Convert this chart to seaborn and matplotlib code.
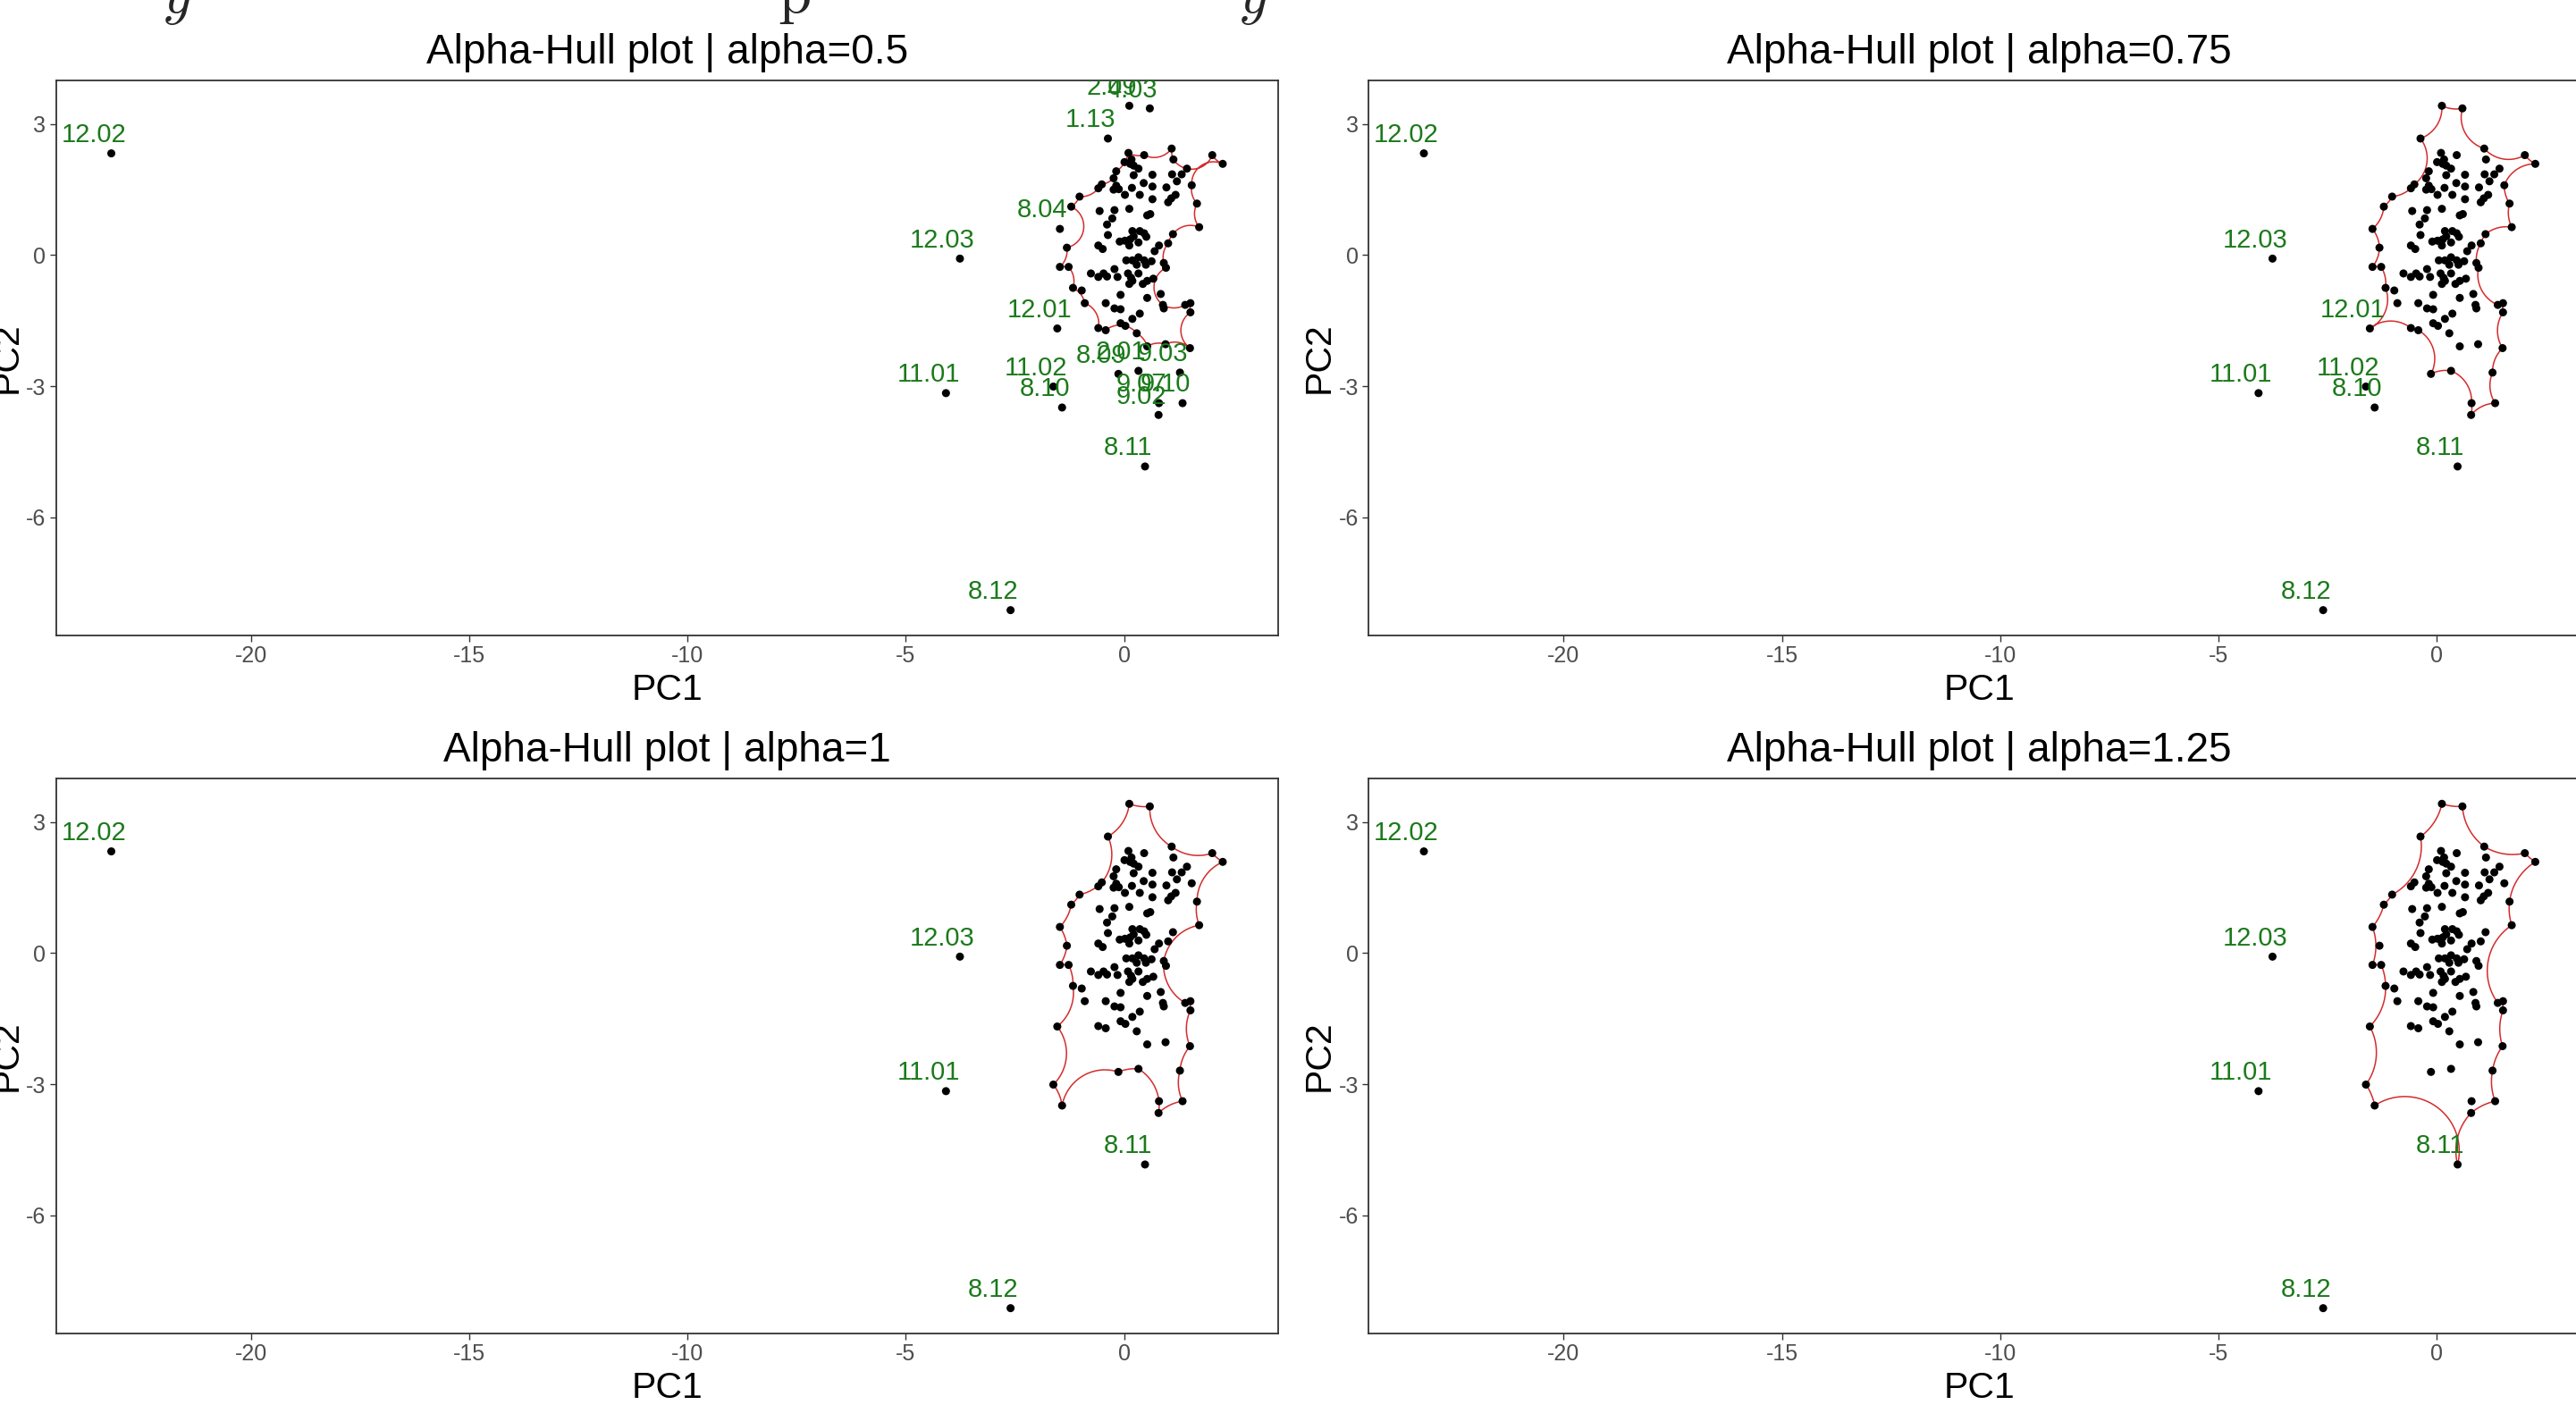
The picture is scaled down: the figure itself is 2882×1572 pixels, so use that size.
import numpy as np
import pandas as pd
import matplotlib
matplotlib.use("Agg")
import matplotlib.pyplot as plt
import seaborn as sns

# PCA scores (1-based numbering used by the hull lists)
pc1 = [0.12, 0.59, -0.37, 1.09, 2.02, 2.26, 0.10, 0.17, 0.01, 0.14,
       0.22, 0.46, 1.13, -0.18, 0.33, 0.22, 0.65, 1.10, 1.32, 1.44,
       -0.24, -0.51, -0.59, -0.18, -0.12, -0.24, 0.18, 0.45, 0.65, 0.97,
       1.21, 1.55, -1.02, -1.21, 0.02, 0.36, 0.65, 1.18, 1.08, 1.01,
       1.67, -0.56, -0.22, 0.12, -0.27, 0.53, 0.60, -0.39, -1.47, 1.72,
       -0.37, 0.19, 0.36, 0.46, 0.51, 1.12, -0.10, 0.02, 0.14, 0.22,
       0.33, 0.12, -0.59, -0.49, -1.31, 0.80, 1.01, 0.70, 0.19, 0.33,
       0.05, 0.46, 0.63, 0.91, 0.96, -1.47, -1.27, -0.22, 0.29, 0.50,
       -0.76, -0.59, -0.47, -0.39, -0.15, 0.09, 0.16, 0.33, 0.67, 0.53,
       -1.17, -0.97, 0.12, 0.19, 0.43, -0.08, 0.53, 0.84, 0.89, 0.91,
       1.40, 1.52, 1.52, -0.90, -0.42, -0.22, -0.08, 0.36, 0.19, -0.08,
       0.03, -0.59, -0.42, 0.29, -1.53, 0.53, 0.95, 1.51, 0.33, -0.13,
       1.28, -1.62, -1.42, 0.80, 1.34, 0.79, 0.48, -2.60, -23.20, -3.76,
       -4.08]
pc2 = [3.42, 3.36, 2.67, 2.44, 2.29, 2.09, 2.34, 2.19, 2.13, 2.09,
       2.05, 2.29, 2.19, 1.92, 1.98, 1.83, 1.84, 1.85, 1.85, 1.98,
       1.76, 1.62, 1.53, 1.59, 1.51, 1.50, 1.54, 1.65, 1.57, 1.55,
       1.69, 1.60, 1.34, 1.11, 1.38, 1.38, 1.28, 1.38, 1.30, 1.21,
       1.18, 1.01, 1.03, 1.06, 0.84, 0.91, 0.94, 0.70, 0.60, 0.64,
       0.46, 0.55, 0.55, 0.50, 0.42, 0.48, 0.31, 0.33, 0.36, 0.43,
       0.29, 0.22, 0.22, 0.14, 0.17, 0.22, 0.27, 0.09, -0.12, -0.05,
       -0.12, -0.12, -0.14, -0.18, -0.29, -0.27, -0.27, -0.32, -0.22, -0.22,
       -0.42, -0.50, -0.42, -0.49, -0.50, -0.42, -0.52, -0.42, -0.54, -0.59,
       -0.75, -0.81, -0.66, -0.59, -0.66, -0.91, -0.98, -0.89, -1.14, -1.22,
       -1.14, -1.10, -1.31, -1.10, -1.10, -1.22, -1.24, -1.34, -1.46, -1.56,
       -1.62, -1.67, -1.72, -1.79, -1.68, -2.09, -2.04, -2.13, -2.65, -2.72,
       -2.69, -3.01, -3.49, -3.39, -3.39, -3.66, -4.84, -8.13, 2.33, -0.08,
       -3.16]

point_ids = {1: "2.09", 2: "4.03", 3: "1.13", 49: "8.04", 115: "12.01",
             119: "2.01", 120: "8.09", 121: "9.03", 122: "11.02", 123: "8.10",
             124: "9.07", 125: "9.10", 126: "9.02", 127: "8.11", 128: "8.12",
             129: "12.02", 130: "12.03", 131: "11.01"}

alphas = [0.5, 0.75, 1, 1.25]

hull_050 = [7, 12, 4, 13, 20, 5, 6, 32, 41, 50, 56, 67, 74, 75, 99, 101, 102,
            103, 118, 117, 116, 114, 111, 113, 112, 104, 91, 77, 76, 65, 34,
            33, 23, 22, 21, 14, 9]
hull_075 = [1, 2, 4, 5, 6, 32, 41, 50, 56, 67, 74, 75, 101, 102, 103, 118,
            121, 125, 126, 124, 119, 120, 113, 112, 115, 91, 77, 76, 65, 49,
            34, 33, 23, 22, 3]
hull_100 = [1, 2, 4, 5, 6, 41, 50, 74, 101, 102, 103, 118, 121, 125, 126,
            124, 119, 120, 123, 122, 115, 91, 77, 76, 65, 49, 34, 33, 22, 3]
hull_125 = [1, 2, 4, 5, 6, 41, 50, 101, 102, 103, 118, 121, 125, 126, 127,
            123, 122, 115, 91, 77, 76, 49, 34, 33, 3]

labelled_050 = [129, 130, 131, 127, 128, 1, 2, 3, 49, 115, 122, 123, 120,
                119, 121, 124, 125, 126]
labelled_075 = [129, 130, 115, 131, 122, 123, 127, 128]
labelled_100 = [129, 130, 131, 127, 128]
labelled_125 = [129, 130, 131, 127, 128]

x_ticks = [-20, -15, -10, -5, 0]
y_ticks = [-6, -3, 0, 3]

W, H = 2882, 1572
RED = "#d42c2c"
GREEN = "#1b7a1b"


def alpha_arcs(xs, ys, order, alpha, n=40):
    idx = np.asarray(order) - 1
    px = np.asarray(xs)[idx]
    py = np.asarray(ys)[idx]
    area = 0.5 * np.sum(px * np.roll(py, -1) - np.roll(px, -1) * py)
    sign = 1.0 if area > 0 else -1.0

    def wrap(a):
        return (a + np.pi) % (2 * np.pi) - np.pi

    out_x, out_y = [], []
    for i in range(len(px)):
        x0, y0 = px[i], py[i]
        x1, y1 = px[(i + 1) % len(px)], py[(i + 1) % len(px)]
        dx, dy = x1 - x0, y1 - y0
        d = np.hypot(dx, dy)
        nx, ny = sign * -dy / d, sign * dx / d  # points into the hull
        r = max(alpha, d / 2)
        h = np.sqrt(max(r * r - d * d / 4, 0.0))
        cx = (x0 + x1) / 2 - nx * h
        cy = (y0 + y1) / 2 - ny * h
        a0 = np.arctan2(y0 - cy, x0 - cx)
        a1 = np.arctan2(y1 - cy, x1 - cx)
        am = np.arctan2(ny, nx)
        delta = wrap(a1 - a0)
        dm = wrap(am - a0)
        if not (np.sign(dm) == np.sign(delta) and abs(dm) <= abs(delta)):
            delta -= np.sign(delta) * 2 * np.pi
        t = a0 + delta * np.linspace(0, 1, n)
        out_x.extend(cx + r * np.cos(t))
        out_y.extend(cy + r * np.sin(t))
    return pd.DataFrame({"x": out_x, "y": out_y})


sns.set_style("white")
plt.rcParams["font.family"] = ["Liberation Sans", "DejaVu Sans"]
plt.rcParams["axes.unicode_minus"] = False

fig = plt.figure(figsize=(W / 100, H / 100), dpi=100)

panel_left = [62.5, 1531, 62.5, 1531]
panel_top = [90, 90, 871, 871]
panel_w, panel_h = 1367.5, 621

hulls = [hull_050, hull_075, hull_100, hull_125]
labelled = [labelled_050, labelled_075, labelled_100, labelled_125]

for k, a in enumerate(alphas):
    ax = fig.add_axes([panel_left[k] / W, 1 - (panel_top[k] + panel_h) / H,
                       panel_w / W, panel_h / H])

    path = alpha_arcs(pc1, pc2, hulls[k], a)
    sns.lineplot(data=path, x="x", y="y", sort=False, estimator=None,
                 color=RED, linewidth=1.1, ax=ax)
    sns.scatterplot(x=pc1, y=pc2, color="black", s=42, edgecolor="none",
                    legend=False, ax=ax, zorder=3)

    for i in labelled[k]:
        ax.text(pc1[i - 1] - 0.4, pc2[i - 1] + 0.26, point_ids[i],
                color=GREEN, fontsize=21, ha="center", va="baseline",
                clip_on=True, zorder=4)

    ax.set_xlim(-24.47, 3.53)
    ax.set_ylim(-8.71, 4.0)
    ax.set_xticks(x_ticks)
    ax.set_xticklabels([str(v) for v in x_ticks])
    ax.set_yticks(y_ticks)
    ax.set_yticklabels([str(v) for v in y_ticks])
    ax.set_xlabel("")
    ax.set_ylabel("")
    ax.tick_params(bottom=True, left=True, direction="out", length=5,
                   width=1.0, color="#333333", labelsize=18,
                   labelcolor="#4d4d4d", pad=3)
    for sp in ax.spines.values():
        sp.set_visible(True)
        sp.set_color("#333333")
        sp.set_linewidth(1.3)

    ax.text(0.5, 1.05, f"Alpha-Hull plot | alpha={a:g}", transform=ax.transAxes,
            ha="center", va="center", fontsize=33, color="black")
    ax.text(0.5, -0.098, "PC1", transform=ax.transAxes, ha="center",
            va="center", fontsize=29.5, color="black")
    ax.text(-0.0402, 0.5, "PC2", transform=ax.transAxes, ha="center",
            va="center", rotation=90, fontsize=29.5, color="black", clip_on=False)

# descenders of the text line cropped off above the figure
for gx, g in [(198, r"$y$"), (888, r"$\mathrm{p}$"), (1402, r"$y$")]:
    fig.text(gx / W, 1 - 14 / H, g, fontsize=48, ha="center", va="baseline",
             math_fontfamily="cm")

fig.savefig("out.png", dpi=100)
